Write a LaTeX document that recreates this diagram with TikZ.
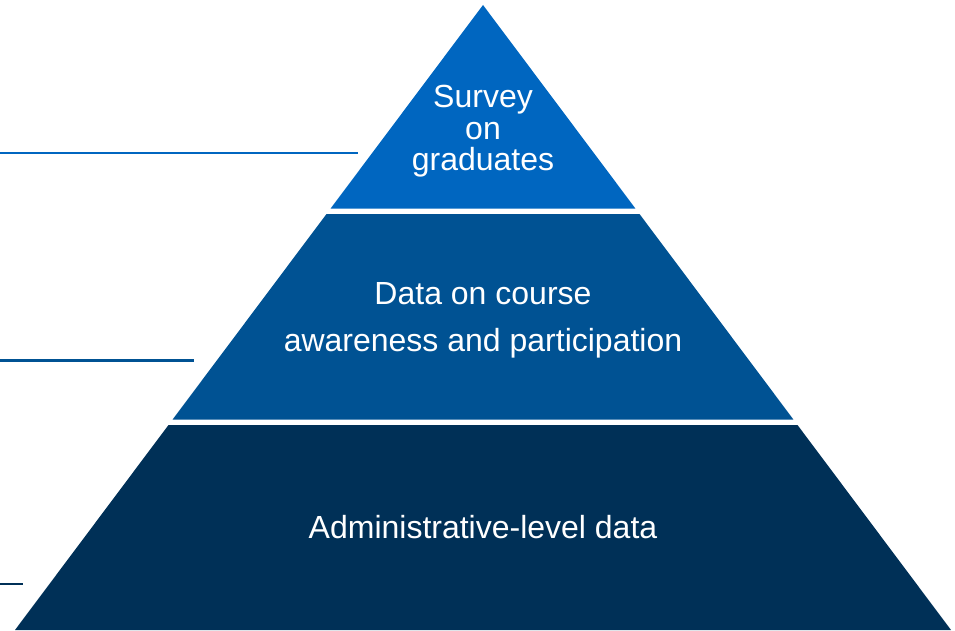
\documentclass[tikz,border=0pt]{standalone}
\usepackage{fontspec}
\setmainfont{Liberation Sans}
\definecolor{tiertop}{RGB}{0,102,192}
\definecolor{tiermid}{RGB}{0,82,147}
\definecolor{tierbase}{RGB}{0,48,87}
\begin{document}
\begin{tikzpicture}[x=1pt,y=-1pt,
  tier/.style={fill=#1,draw=none},
  tiertext/.style={text=white,align=center,inner sep=0pt,text depth=0pt,anchor=south},
  leader/.style={draw=#1,line width=2.2pt}]
\useasboundingbox (0,0) rectangle (955,631);

% pyramid tiers
\fill[tier=tiertop]  (483,5) -- (635.4,208.5) -- (330.6,208.5) -- cycle;
\fill[tier=tiermid]  (326.5,214) -- (639.5,214) -- (793.4,419.5) -- (172.6,419.5) -- cycle;
\fill[tier=tierbase] (168.5,425) -- (797.5,425) -- (951,630) -- (15,630) -- cycle;

% tier labels (south anchor = baseline of last line)
\node[tiertext,font=\fontsize{32}{31.7}\selectfont] (survey) at (483,171) {Survey\\on\\graduates};
\node[tiertext,font=\fontsize{32}{47}\selectfont] (course) at (483,352) {Data on course\\awareness and participation};
\node[tiertext,font=\fontsize{32}{37}\selectfont] (admin) at (483,539) {Administrative-level data};

% leader lines on the left
\coordinate (l1a) at (0,153);   \coordinate (l1b) at (358,153);
\coordinate (l2a) at (0,360.5); \coordinate (l2b) at (194,360.5);
\coordinate (l3a) at (0,584);   \coordinate (l3b) at (23,584);
\draw[leader=tiertop]  (l1a) -- (l1b);
\draw[leader=tiermid]  (l2a) -- (l2b);
\draw[leader=tierbase] (l3a) -- (l3b);
\end{tikzpicture}
\end{document}
